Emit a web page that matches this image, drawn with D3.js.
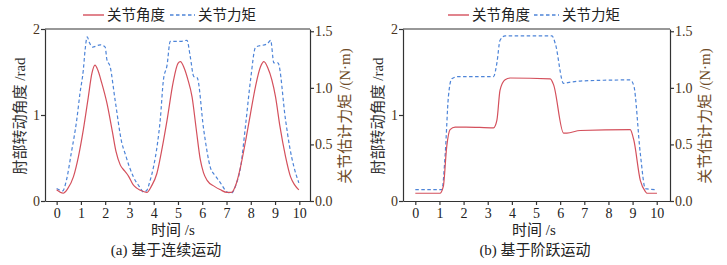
<!DOCTYPE html>
<html><head><meta charset="utf-8">
<script src="https://cdn.jsdelivr.net/npm/d3@7/dist/d3.min.js"></script>
<style>
html,body{margin:0;padding:0;background:#fff;}
svg{display:block;}
text{font-family:"Liberation Serif","Times New Roman","Noto Sans CJK SC",serif;}
</style></head>
<body><svg id="c" width="727" height="265"></svg>
<script>
// ---- data ----
const xTicks = [0,1,2,3,4,5,6,7,8,9,10];
const leftTicks = [0,1,2];
const rightTicks = [0.0,0.5,1.0,1.5];
const seriesNames = ["关节角度","关节力矩"];
const captions = ["(a) 基于连续运动","(b) 基于阶跃运动"];
const xTitle = "时间 /s";
const yTitleLeft = "肘部转动角度 /rad";
const yTitleRight = "关节估计力矩 /(N·m)";

// panel a: continuous motion
const tAngleA = [0,0.27,0.45,0.69,0.9,1.1,1.3,1.45,1.58,1.7,1.85,2.07,2.3,2.45,2.62,2.8,2.96,3.15,3.3,3.58,3.72,3.9,4.13,4.35,4.55,4.8,5.0,5.1,5.25,5.4,5.58,5.75,5.92,6.05,6.2,6.5,6.75,7.02,7.2,7.4,7.58,7.8,7.99,8.2,8.4,8.54,8.7,9.02,9.2,9.43,9.64,9.8,9.98];
const angleA  = [0.13,0.09,0.14,0.28,0.52,0.83,1.2,1.48,1.58,1.52,1.38,1.14,0.8,0.57,0.42,0.35,0.29,0.19,0.15,0.11,0.10,0.17,0.32,0.62,0.94,1.38,1.6,1.62,1.55,1.42,1.21,0.84,0.48,0.33,0.24,0.17,0.13,0.10,0.10,0.2,0.40,0.72,1.02,1.34,1.56,1.62,1.55,1.21,0.87,0.52,0.28,0.19,0.13];
const tTorqueA = [0,0.25,0.41,0.6,0.83,0.96,1.1,1.17,1.26,1.35,1.48,1.79,2.0,2.07,2.2,2.41,2.69,2.82,3.0,3.17,3.4,3.58,3.7,3.85,3.99,4.15,4.27,4.4,4.55,4.68,5.1,5.37,5.51,5.65,5.79,6.06,6.33,6.55,6.75,7.02,7.2,7.4,7.58,7.8,7.99,8.2,8.68,8.82,8.95,9.12,9.43,9.6,9.78,9.98];
const torqueA  = [0.11,0.09,0.19,0.42,0.72,0.95,1.16,1.33,1.45,1.40,1.36,1.38,1.36,1.25,1.19,0.89,0.51,0.42,0.30,0.21,0.13,0.08,0.09,0.18,0.30,0.5,0.72,1.07,1.2,1.41,1.41,1.42,1.27,1.10,1.09,0.63,0.30,0.22,0.16,0.08,0.07,0.15,0.30,0.7,1.07,1.36,1.39,1.42,1.22,1.22,0.72,0.48,0.30,0.16];

// panel b: step motion
const tAngleB = [0,1.02,1.16,1.3,1.44,1.65,2.1,3.24,3.38,3.51,3.72,3.93,5.59,5.73,6.14,6.28,6.83,8.9,9.05,9.32,9.53,9.6,10.01];
const angleB  = [0.09,0.09,0.17,0.63,0.83,0.86,0.86,0.85,0.94,1.29,1.41,1.43,1.42,1.35,0.79,0.79,0.82,0.83,0.71,0.24,0.11,0.09,0.09];
const tTorqueB = [0,1.1,1.24,1.37,1.51,1.78,3.24,3.38,3.51,3.72,5.66,5.8,6.14,6.42,6.83,8.9,9.05,9.32,9.53,10.01];
const torqueB  = [0.10,0.10,0.42,0.92,1.08,1.10,1.10,1.22,1.42,1.46,1.46,1.39,1.04,1.05,1.06,1.07,1.02,0.42,0.11,0.10];

const panels = [
  {tA:tAngleA, a:angleA, tT:tTorqueA, t:torqueA, caption:captions[0],
   left:45, right:310, xDom:[-0.48,10.44], leg:[83,170], xt:173, cap:166, yl:20, yr:345},
  {tA:tAngleB, a:angleB, tT:tTorqueB, t:torqueB, caption:captions[1],
   left:403, right:670, xDom:[-0.51,10.55], leg:[448,534], xt:534, cap:535, yl:378, yr:705}
];

const yTop = 29, yBottom = 201;
const red = "#d4505c", blue = "#4d84d8";
const axisCol = "#333";
const svg = d3.select("#c");

panels.forEach(p => {
  const g = svg.append("g");
  const x = d3.scaleLinear().domain(p.xDom).range([p.left, p.right]);
  const yL = d3.scaleLinear().domain([0,2]).range([yBottom, yTop]);
  const yR = d3.scaleLinear().domain([0,1.52]).range([yBottom, yTop]);

  const la = d3.line().x(d=>x(d[0])).y(d=>yL(d[1])).curve(d3.curveMonotoneX);
  const lt = d3.line().x(d=>x(d[0])).y(d=>yR(d[1])).curve(d3.curveMonotoneX);
  g.append("path").datum(d3.zip(p.tT, p.t)).attr("d", lt)
    .attr("fill","none").attr("stroke",blue).attr("stroke-width",1.2).attr("stroke-dasharray","3.5,2.5");
  g.append("path").datum(d3.zip(p.tA, p.a)).attr("d", la)
    .attr("fill","none").attr("stroke",red).attr("stroke-width",1.2);

  g.append("line").attr("x1",p.left).attr("x2",p.right).attr("y1",yTop).attr("y2",yTop)
    .attr("stroke",axisCol).attr("stroke-width",1.2);

  const style = (sel, col) => {
    sel.select(".domain").attr("stroke",axisCol).attr("stroke-width",1.2);
    sel.selectAll(".tick line").attr("stroke",axisCol).attr("stroke-width",1.2);
    sel.selectAll(".tick text").attr("fill",col).attr("font-size","14px")
      .attr("font-family","'Liberation Serif','Times New Roman',serif");
  };
  const gx = g.append("g").attr("transform",`translate(0,${yBottom})`)
    .call(d3.axisBottom(x).tickValues(xTicks).tickSize(4).tickSizeOuter(0).tickPadding(3).tickFormat(d3.format("d")));
  style(gx, "#222");
  const gl = g.append("g").attr("transform",`translate(${p.left},0)`)
    .call(d3.axisLeft(yL).tickValues(leftTicks).tickSize(4).tickSizeOuter(0).tickPadding(1).tickFormat(d3.format("d")));
  style(gl, "#4a3420");
  const gr = g.append("g").attr("transform",`translate(${p.right},0)`)
    .call(d3.axisRight(yR).tickValues(rightTicks).tickSize(4).tickSizeOuter(0).tickPadding(1).tickFormat(d3.format(".1f")));
  style(gr, "#4a3420");

  g.append("text").attr("x",p.xt).attr("y",235).attr("text-anchor","middle")
    .attr("font-size","15px").attr("fill","#222").text(xTitle);
  g.append("text").attr("x",p.cap).attr("y",255).attr("text-anchor","middle")
    .attr("font-size","15px").attr("fill","#222").text(p.caption);
  g.append("text").attr("transform",`translate(${p.yl},116) rotate(-90)`).attr("text-anchor","middle")
    .attr("dominant-baseline","central").attr("font-size","15px").attr("fill","#333").text(yTitleLeft);
  g.append("text").attr("transform",`translate(${p.yr},116) rotate(-90)`).attr("text-anchor","middle")
    .attr("dominant-baseline","central").attr("font-size","15px").attr("fill","#6e4a26").text(yTitleRight);

  const ly = 15;
  g.append("line").attr("x1",p.leg[0]).attr("x2",p.leg[0]+21).attr("y1",ly).attr("y2",ly)
    .attr("stroke",red).attr("stroke-width",1.4);
  g.append("text").attr("x",p.leg[0]+24).attr("y",ly).attr("dominant-baseline","central")
    .attr("font-size","14.5px").attr("fill","#222").text(seriesNames[0]);
  g.append("line").attr("x1",p.leg[1]).attr("x2",p.leg[1]+25).attr("y1",ly).attr("y2",ly)
    .attr("stroke",blue).attr("stroke-width",1.4).attr("stroke-dasharray","3.5,2.5");
  g.append("text").attr("x",p.leg[1]+28).attr("y",ly).attr("dominant-baseline","central")
    .attr("font-size","14.5px").attr("fill","#222").text(seriesNames[1]);
});
</script></body></html>
